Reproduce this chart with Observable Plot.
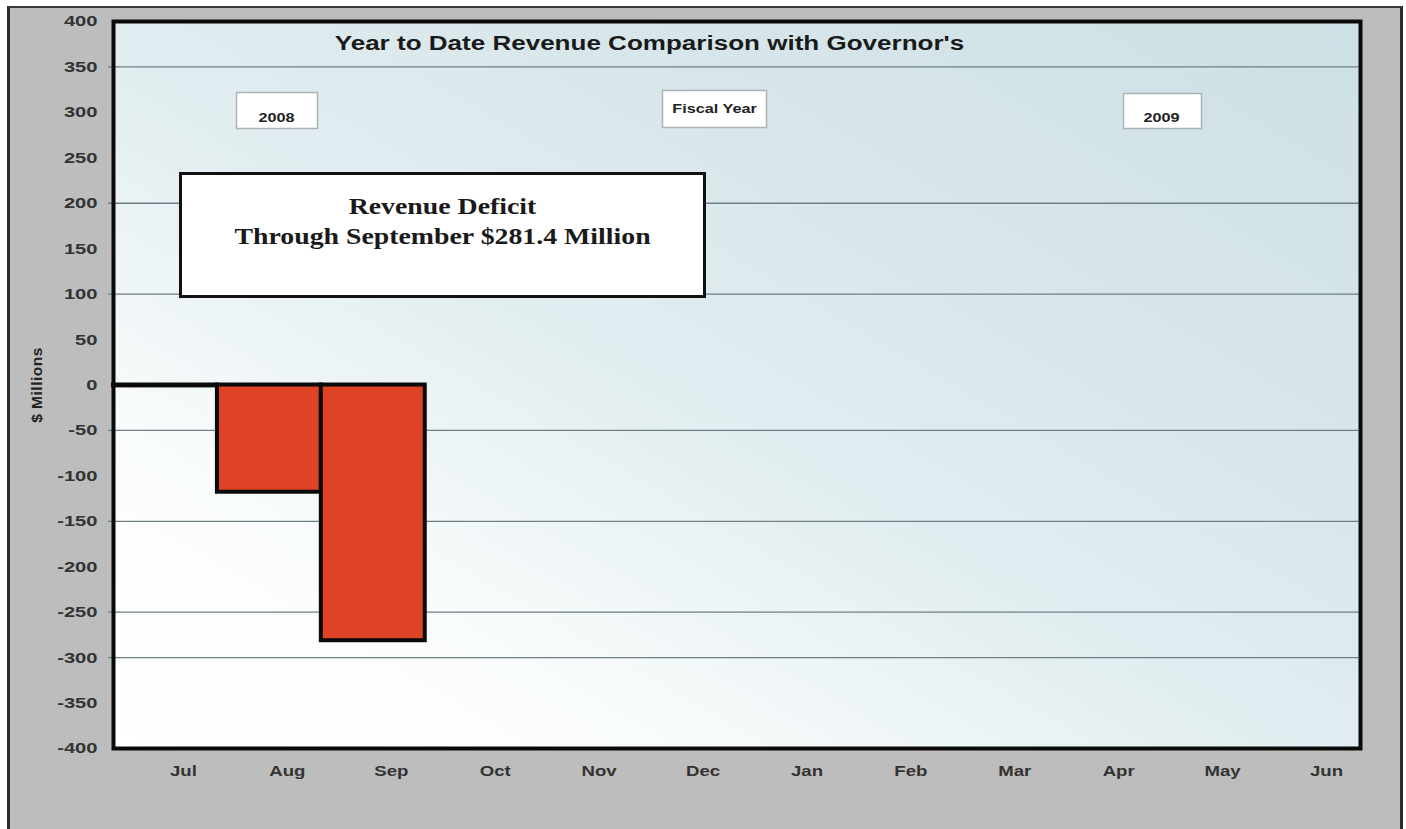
<!DOCTYPE html>
<html>
<head>
<meta charset="utf-8">
<script src="https://cdn.jsdelivr.net/npm/d3@7"></script>
<script src="https://cdn.jsdelivr.net/npm/@observablehq/plot@0.6"></script>
<style>
  html, body { margin: 0; padding: 0; background: #ffffff; }
  #wrap { position: relative; width: 1406px; height: 829px; overflow: hidden; }
  #outer {
    position: absolute; left: 7px; top: 6px; width: 1396px; height: 823px;
    box-sizing: border-box; background: #bdbdbd;
    border-left: 3px solid #2b2b2b; border-top: 2px solid #3a3a3a; border-right: 3px solid #2b2b2b;
  }
  #chart { position: absolute; left: 0; top: 0; }
</style>
</head>
<body>
<div id="wrap">
  <div id="outer"></div>
  <div id="chart"></div>
</div>
<script>
// ---- data ----
const months = ["Jul", "Aug", "Sep", "Oct", "Nov", "Dec", "Jan", "Feb", "Mar", "Apr", "May", "Jun"];
const ytdValues = [-1, -118, -281.4];          // $ millions, year to date vs Governor's estimate
const yTicks = [400, 350, 300, 250, 200, 150, 100, 50, 0, -50, -100, -150, -200, -250, -300, -350, -400];
const gridValues = [350, 200, 100, -50, -150, -250, -300];
const titleText = "Year to Date Revenue Comparison with Governor's";
const noteLines = ["Revenue Deficit", "Through September $281.4 Million"];
const tagTexts = ["2008", "Fiscal Year", "2009"];
const yLabel = "$ Millions";

const bars = ytdValues.map((v, i) => ({month: months[i], value: v}));

const W = 1406, H = 829;
const mL = 113, mR = 46, mT = 21, mB = 81;
const serif = "'Liberation Serif', 'DejaVu Serif', serif";

const plot = Plot.plot({
  width: W,
  height: H,
  marginLeft: mL,
  marginRight: mR,
  marginTop: mT,
  marginBottom: mB,
  style: {background: "transparent", fontFamily: "'Liberation Sans', Arial, sans-serif", color: "#2a2a2a"},
  x: {type: "band", domain: months, padding: 0, round: false},
  y: {domain: [-400, 400]},
  marks: [
    // gradient background of the plotting area
    Plot.frame({fill: "url(#plotbg)", stroke: "none"}),
    // gridlines
    Plot.ruleY(gridValues, {stroke: "#6e7f85", strokeWidth: 1.3, insetLeft: -5}),
    // small tag boxes
    Plot.frame({fill: "#ffffff", stroke: "#aab3b6", strokeWidth: 1.5, insetLeft: 123, insetRight: 1043, insetTop: 71, insetBottom: 620}),
    Plot.frame({fill: "#ffffff", stroke: "#aab3b6", strokeWidth: 1.5, insetLeft: 549, insetRight: 594, insetTop: 69, insetBottom: 621}),
    Plot.frame({fill: "#ffffff", stroke: "#aab3b6", strokeWidth: 1.5, insetLeft: 1010, insetRight: 159, insetTop: 72, insetBottom: 620}),
    Plot.text([tagTexts[0]], {text: d => d, frameAnchor: "top-left", dx: 276 - mL, dy: 117 - mT, textAnchor: "middle", lineAnchor: "middle", fontSize: 12.5, fontWeight: "bold", fill: "#222"}),
    Plot.text([tagTexts[1]], {text: d => d, frameAnchor: "top-left", dx: 714 - mL, dy: 108 - mT, textAnchor: "middle", lineAnchor: "middle", fontSize: 12.5, fontWeight: "bold", fill: "#222"}),
    Plot.text([tagTexts[2]], {text: d => d, frameAnchor: "top-left", dx: 1161 - mL, dy: 117 - mT, textAnchor: "middle", lineAnchor: "middle", fontSize: 12.5, fontWeight: "bold", fill: "#222"}),
    // big note box
    Plot.frame({fill: "#ffffff", stroke: "#111", strokeWidth: 3, insetLeft: 67, insetRight: 656, insetTop: 152, insetBottom: 452}),
    Plot.text([noteLines[0]], {text: d => d, frameAnchor: "top-left", dx: 442 - mL, dy: 206 - mT, textAnchor: "middle", lineAnchor: "middle", fontSize: 23, fontWeight: "bold", fontFamily: serif, fill: "#1a1a1a"}),
    Plot.text([noteLines[1]], {text: d => d, frameAnchor: "top-left", dx: 442 - mL, dy: 236 - mT, textAnchor: "middle", lineAnchor: "middle", fontSize: 23, fontWeight: "bold", fontFamily: serif, fill: "#1a1a1a"}),
    // title
    Plot.text([titleText], {text: d => d, frameAnchor: "top-left", dx: 649 - mL, dy: 43 - mT, textAnchor: "middle", lineAnchor: "middle", fontSize: 21, fontWeight: "bold", fill: "#1a1a1a"}),
    // bars
    Plot.barY(bars, {x: "month", y: "value", fill: "#de4325", stroke: "#0a0a0a", strokeWidth: 4, strokeLinejoin: "miter"}),
    // axes
    Plot.axisY(yTicks, {tickSize: 0, tickPadding: 16, fontSize: 15.5, fontWeight: "bold", fill: "#333", tickFormat: d => String(d), label: null}),
    Plot.axisX({tickSize: 0, tickPadding: 16, dx: 18, fontSize: 15.5, fontWeight: "bold", fill: "#333", label: null}),
    // y label
    Plot.text([yLabel], {text: d => d, frameAnchor: "left", dx: 37 - mL, rotate: -90, textAnchor: "middle", lineAnchor: "middle", fontSize: 15.5, fontWeight: "bold", fill: "#222"}),
    // plot border
    Plot.frame({stroke: "#0a0a0a", strokeWidth: 4})
  ]
});

const svg = d3.select(plot);

// gradient definition for the plot background
const defs = svg.insert("defs", ":first-child");
const grad = defs.append("linearGradient")
  .attr("id", "plotbg")
  .attr("x1", "0").attr("y1", "1").attr("x2", "1").attr("y2", "0");
[[0, "#ffffff"], [0.2, "#fbfdfd"], [0.45, "#e3eef1"], [0.7, "#d7e6ea"], [1, "#cde0e5"]].forEach(([o, c]) => {
  grad.append("stop").attr("offset", o).attr("stop-color", c);
});

// the reference typefaces are set wide: stretch text horizontally around its anchor
function stretchEl(el, sx) {
  const t = el.getAttribute("transform");
  if (t) {
    el.setAttribute("transform", `${t} scale(${sx},1)`);
  } else {
    const x = parseFloat(el.getAttribute("x") || "0") || 0;
    el.setAttribute("x", x / sx);
    el.setAttribute("transform", `scale(${sx},1)`);
  }
}
svg.selectAll('g[aria-label="y-axis tick label"] text').each(function () { stretchEl(this, 1.3); });
svg.selectAll('g[aria-label="x-axis tick label"] text').each(function () { stretchEl(this, 1.2); });
svg.selectAll("text").each(function () {
  const s = this.textContent;
  if (s === titleText) stretchEl(this, 1.24);
  else if (noteLines.includes(s)) stretchEl(this, 1.21);
  else if (tagTexts.includes(s)) stretchEl(this, 1.3);
  else if (s === yLabel) this.setAttribute("letter-spacing", "0.5");
});

document.getElementById("chart").appendChild(plot);
</script>
</body>
</html>
